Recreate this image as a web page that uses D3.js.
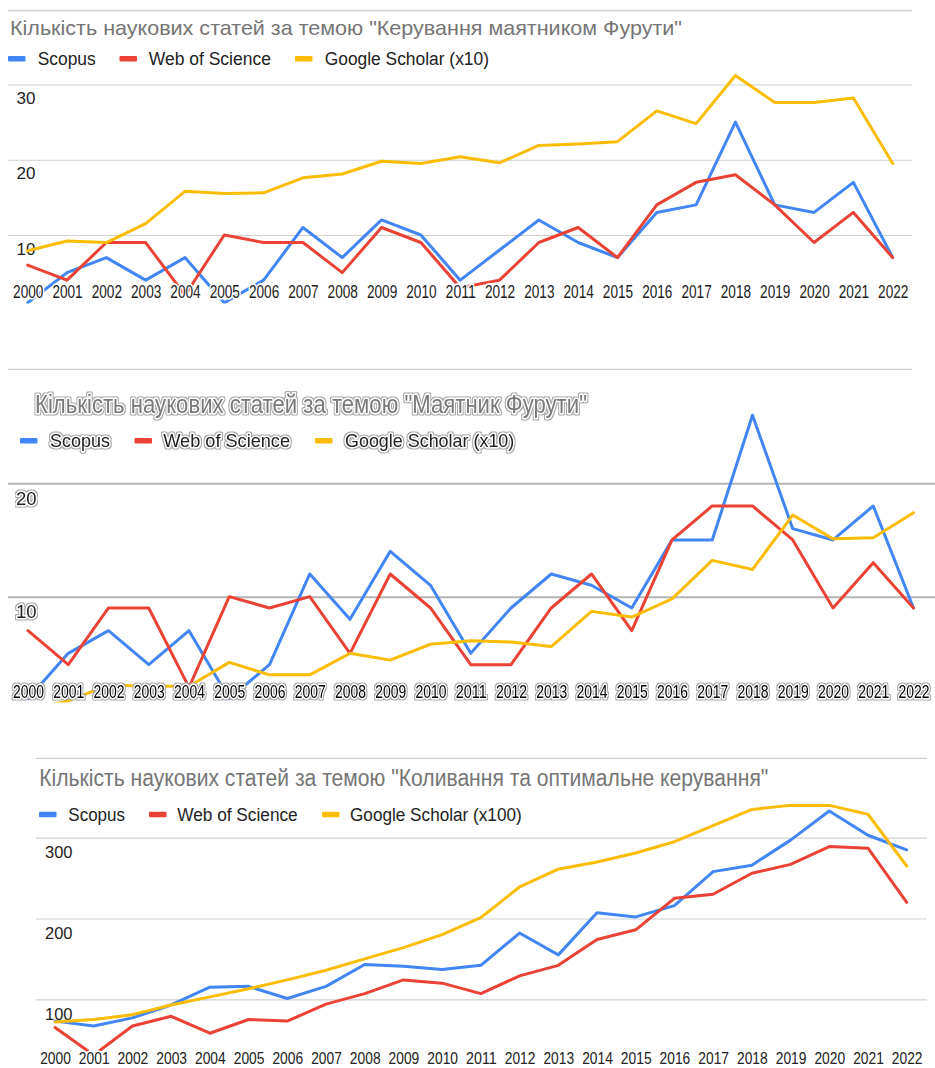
<!DOCTYPE html>
<html>
<head>
<meta charset="utf-8">
<script src="https://cdn.jsdelivr.net/npm/d3@7"></script>
<style>
  html, body { margin: 0; padding: 0; background: #fff; }
  svg { display: block; font-family: "Liberation Sans", Arial, sans-serif; }
</style>
</head>
<body>
<svg id="chart" width="935" height="1068"></svg>
<script>
// ---------------- DATA ----------------
const years = [2000, 2001, 2002, 2003, 2004, 2005, 2006, 2007, 2008, 2009, 2010, 2011,
               2012, 2013, 2014, 2015, 2016, 2017, 2018, 2019, 2020, 2021, 2022];

const title1 = 'Кількість наукових статей за темою "Керування маятником Фурути"';
const title2 = 'Кількість наукових статей за темою "Маятник Фурути"';
const title3 = 'Кількість наукових статей за темою "Коливання та оптимальне керування"';

const legend1 = ["Scopus", "Web of Science", "Google Scholar (x10)"];
const legend2 = ["Scopus", "Web of Science", "Google Scholar (x10)"];
const legend3 = ["Scopus", "Web of Science", "Google Scholar (x100)"];

const ticks1 = [10, 20, 30];
const ticks2 = [10, 20];
const ticks3 = [100, 200, 300];

const c1Scopus  = [1, 5, 7, 4, 7, 1, 4, 11, 7, 12, 10, 4, 8, 12, 9, 7, 13, 14, 25, 14, 13, 17, 7];
const c1WoS     = [6, 4, 9, 9, 2, 10, 9, 9, 5, 11, 9, 3, 4, 9, 11, 7, 14, 17, 18, 14, 9, 13, 7];
const c1Scholar = [7.9, 9.2, 9.0, 11.5, 15.8, 15.5, 15.6, 17.6, 18.1, 19.8, 19.5, 20.4,
                   19.6, 21.9, 22.1, 22.4, 26.5, 24.8, 31.2, 27.6, 27.6, 28.2, 19.5];

const c2Scopus  = [1, 5, 7, 4, 7, 1, 4, 12, 8, 14, 11, 5, 9, 12, 11, 9, 15, 15, 26, 16, 15, 18, 9];
const c2WoS     = [7, 4, 9, 9, 2, 10, 9, 10, 5, 12, 9, 4, 4, 9, 12, 7, 15, 18, 18, 15, 9, 13, 9];
const c2Scholar = [0, 0.8, 2.2, 2.1, 2.1, 4.2, 3.1, 3.1, 5.0, 4.4, 5.8, 6.1,
                   6.0, 5.6, 8.7, 8.2, 9.8, 13.2, 12.4, 17.2, 15.1, 15.2, 17.4];

const c3Scopus  = [73, 67, 77, 93, 115, 116, 101, 116, 143, 141, 137, 142,
                   182, 155, 207, 202, 216, 258, 266, 297, 333, 303, 285];
const c3WoS     = [65, 31, 67, 79, 58, 75, 73, 94, 107, 124, 120, 107,
                   129, 142, 174, 186, 225, 230, 256, 267, 289, 287, 220];
const c3Scholar = [72, 75, 81, 93, 103, 113, 124, 136, 150, 164, 180, 201,
                   239, 261, 270, 281, 295, 315, 335, 340, 340, 329, 265];

const colors = ["#4285F4", "#EA4335", "#FBBC04"];

// ---------------- LAYOUT ----------------
const svg = d3.select("#chart");
svg.append("rect").attr("width", 935).attr("height", 1068).attr("fill", "#fff");

const defs = svg.append("defs");
// grey outline around the white halo (look of chart 2's text)
const flt = defs.append("filter").attr("id", "outline")
  .attr("x", "-4%").attr("y", "-20%").attr("width", "108%").attr("height", "140%");
flt.append("feMorphology").attr("in", "SourceAlpha").attr("operator", "dilate")
  .attr("radius", 0.9).attr("result", "dil");
flt.append("feFlood").attr("flood-color", "#a8a8a8").attr("result", "col");
flt.append("feComposite").attr("in", "col").attr("in2", "dil").attr("operator", "in").attr("result", "ring");
const fm = flt.append("feMerge");
fm.append("feMergeNode").attr("in", "ring");
fm.append("feMergeNode").attr("in", "SourceGraphic");

const charts = [
  {
    id: "c1", title: title1, legend: legend1, ticks: ticks1,
    series: [c1Scopus, c1WoS, c1Scholar],
    topLine: { y: 10.5, x0: 8, x1: 912 }, bottomLine: { y: 369.3, x0: 8, x1: 912 },
    titleX: 10, titleY: 35, titleW: 672, titleSize: 21, titleFill: "#757575",
    legY: 64.5, legSwY: 56, legSize: 18,
    legItems: [{ sw: 8, tx: 37.7, w: 58 }, { sw: 119.5, tx: 148.7, w: 122.3 }, { sw: 295, tx: 324.7, w: 164.3 }],
    yMax: 30, yZero: 310.25, yTop: 84.5,
    gridX0: 8, gridX1: 912, gridColor: "#d0d0d0", gridW: 1.2,
    yLabX: 16.5, yLabOff: 19.5, yLabSize: 17,
    xFirst: 27.7, xLast: 892.7, xLabY: 297.8, xLabSize: 17.5, xLabW: 30.3,
    clipTop: 15, clipBottom: 303.5, outlined: false
  },
  {
    id: "c2", title: title2, legend: legend2, ticks: ticks2,
    series: [c2Scopus, c2WoS, c2Scholar],
    topLine: null, bottomLine: null,
    titleX: 35, titleY: 413.3, titleW: 552, titleSize: 25.5, titleFill: "#7a7a7a",
    legY: 446.7, legSwY: 438, legSize: 18.5,
    legItems: [{ sw: 20, tx: 50, w: 60 }, { sw: 134.5, tx: 163.3, w: 126.7 }, { sw: 315, tx: 345, w: 169.3 }],
    yMax: 20, yZero: 710, yTop: 483.3,
    gridX0: 8, gridX1: 935, gridColor: "#b4b4b4", gridW: 2,
    yLabX: 16, yLabOff: 21.7, yLabSize: 18.5,
    xFirst: 28, xLast: 913.5, xLabY: 698.3, xLabSize: 18.5, xLabW: 31,
    clipTop: 380, clipBottom: 702.5, outlined: true
  },
  {
    id: "c3", title: title3, legend: legend3, ticks: ticks3,
    series: [c3Scopus, c3WoS, c3Scholar],
    topLine: { y: 758.3, x0: 36, x1: 927 }, bottomLine: null,
    titleX: 39.3, titleY: 785.7, titleW: 729, titleSize: 23, titleFill: "#757575",
    legY: 820.7, legSwY: 811.7, legSize: 18,
    legItems: [{ sw: 39, tx: 68.3, w: 56.7 }, { sw: 149, tx: 177.3, w: 120.4 }, { sw: 322, tx: 350, w: 171.7 }],
    yMax: 300, yZero: 1080.1, yTop: 837.7,
    gridX0: 36, gridX1: 927, gridColor: "#d0d0d0", gridW: 1.2,
    yLabX: 45, yLabOff: 20.6, yLabSize: 16.5,
    xFirst: 55, xLast: 906.7, xLabY: 1064.2, xLabSize: 17, xLabW: 30.7,
    clipTop: 760, clipBottom: 1052.5, outlined: false
  }
];

// text helper: one text element; chart 2 gets white halo + grey outline filter
function addText(parent, cfg, opts) {
  const t = parent.append("text")
      .attr("x", opts.x).attr("y", opts.y)
      .attr("font-size", opts.size)
      .attr("text-anchor", opts.anchor || "start")
      .attr("textLength", opts.w || null)
      .attr("lengthAdjust", opts.w ? "spacingAndGlyphs" : null)
      .attr("fill", opts.fill)
      .text(opts.text);
  if (cfg.outlined) {
    t.attr("stroke", "#fff").attr("stroke-width", 3).attr("stroke-linejoin", "round")
     .attr("paint-order", "stroke").attr("filter", "url(#outline)");
  } else if (opts.halo) {
    t.attr("stroke", "#fff").attr("stroke-width", 3.5).attr("stroke-linejoin", "round")
     .attr("paint-order", "stroke");
  }
  return t;
}

charts.forEach(cfg => {
  const g = svg.append("g").attr("class", cfg.id);

  const x = d3.scaleLinear().domain([years[0], years[years.length - 1]]).range([cfg.xFirst, cfg.xLast]);
  const y = d3.scaleLinear().domain([0, cfg.yMax]).range([cfg.yZero, cfg.yTop]);

  // frame lines
  [cfg.topLine, cfg.bottomLine].forEach(l => {
    if (!l) return;
    g.append("line").attr("x1", l.x0).attr("x2", l.x1).attr("y1", l.y).attr("y2", l.y)
      .attr("stroke", "#cfcfcf").attr("stroke-width", 1.3);
  });

  // title
  addText(g, cfg, { x: cfg.titleX, y: cfg.titleY, size: cfg.titleSize, w: cfg.titleW,
                    text: cfg.title, fill: cfg.titleFill });

  // legend
  cfg.legend.forEach((name, i) => {
    const it = cfg.legItems[i];
    g.append("rect").attr("x", it.sw).attr("y", cfg.legSwY).attr("width", 17.5).attr("height", 5.5)
      .attr("rx", 1).attr("fill", colors[i]);
    addText(g, cfg, { x: it.tx, y: cfg.legY, size: cfg.legSize, w: it.w, text: name, fill: "#222" });
  });

  // gridlines via axis
  const gridG = g.append("g").attr("transform", `translate(${cfg.gridX0},0)`)
    .call(d3.axisLeft(y).tickValues(cfg.ticks).tickSize(-(cfg.gridX1 - cfg.gridX0)).tickFormat(""));
  gridG.select(".domain").remove();
  gridG.selectAll(".tick line").attr("stroke", cfg.gridColor).attr("stroke-width", cfg.gridW);
  gridG.selectAll(".tick text").remove();

  // y labels
  const yLab = g.append("g");
  cfg.ticks.forEach(t => {
    addText(yLab, cfg, { x: cfg.yLabX, y: y(t) + cfg.yLabOff, size: cfg.yLabSize,
                         text: d3.format("d")(t), fill: "#222" });
  });

  // series lines (clipped)
  const clipId = "clip-" + cfg.id;
  defs.append("clipPath").attr("id", clipId)
    .append("rect").attr("x", 0).attr("y", cfg.clipTop)
    .attr("width", 935).attr("height", cfg.clipBottom - cfg.clipTop);
  const line = d3.line().x((d, i) => x(years[i])).y(d => y(d));
  const lg = g.append("g").attr("clip-path", `url(#${clipId})`);
  cfg.series.forEach((s, i) => {
    lg.append("path").datum(s).attr("d", line)
      .attr("fill", "none").attr("stroke", colors[i]).attr("stroke-width", 3)
      .attr("stroke-linejoin", "round").attr("stroke-linecap", "round");
  });

  // x axis labels (with white halo)
  const xAxis = g.append("g").attr("transform", `translate(0,${cfg.xLabY})`)
    .call(d3.axisBottom(x).tickValues(years).tickSize(0).tickFormat(d3.format("d")));
  xAxis.select(".domain").remove();
  xAxis.selectAll(".tick text").each(function (d) {
    const tg = d3.select(this.parentNode);
    d3.select(this).remove();
    addText(tg, cfg, { x: 0, y: 0, size: cfg.xLabSize, w: cfg.xLabW, anchor: "middle",
                       text: d3.format("d")(d), fill: cfg.outlined ? "#000" : "#222", halo: true });
  });
  xAxis.attr("font-family", null).attr("font-size", null);
});
</script>
</body>
</html>
